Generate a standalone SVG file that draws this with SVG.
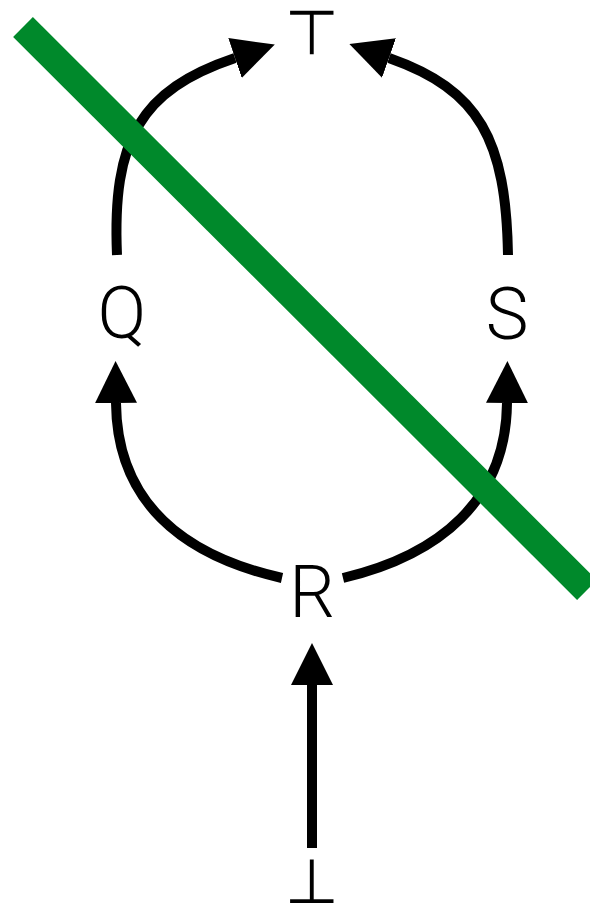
<svg xmlns="http://www.w3.org/2000/svg" width="590" height="907" viewBox="0 0 590 907">
<style>
.lbl{font-family:Roboto,"Liberation Sans",sans-serif;font-weight:300;font-size:72px;fill:#000;text-anchor:middle}
.sym{font-family:"DejaVu Sans",sans-serif;font-size:62px;fill:#000;text-anchor:middle}
.edge{fill:none;stroke:#000;stroke-width:10;marker-end:url(#ah)}
</style>
<defs>
<marker id="ah" markerUnits="userSpaceOnUse" viewBox="0 0 42 42" markerWidth="42" markerHeight="42" refX="0" refY="21" orient="auto">
<path d="M0,0 L42,21 L0,42 z" fill="#000"/>
</marker>
</defs>
<rect width="590" height="907" fill="#fff"/>
<g id="connectors">
<path class="edge" d="M117,255 C112,140 140,90 235,58"/>
<path class="edge" d="M508,255 C506,140 480,90 389,58"/>
<path class="edge" d="M282,578 C180,555 117,500 116,403"/>
<path class="edge" d="M343,578 C440,555 506,500 507,403"/>
<path class="edge" d="M312,848 L312,685"/>
</g>
<g id="node-top"><text class="sym" x="312" y="54">⊤</text></g>
<g id="node-Q"><text class="lbl" x="122" y="338">Q</text></g>
<g id="node-S"><text class="lbl" x="507" y="339">S</text></g>
<g id="node-R"><text class="lbl" x="312" y="617">R</text></g>
<g id="node-bottom"><text class="sym" x="312" y="903">⊥</text></g>
<g id="strike"><line x1="23" y1="27" x2="587" y2="590" stroke="#00892B" stroke-width="28"/></g>
</svg>
